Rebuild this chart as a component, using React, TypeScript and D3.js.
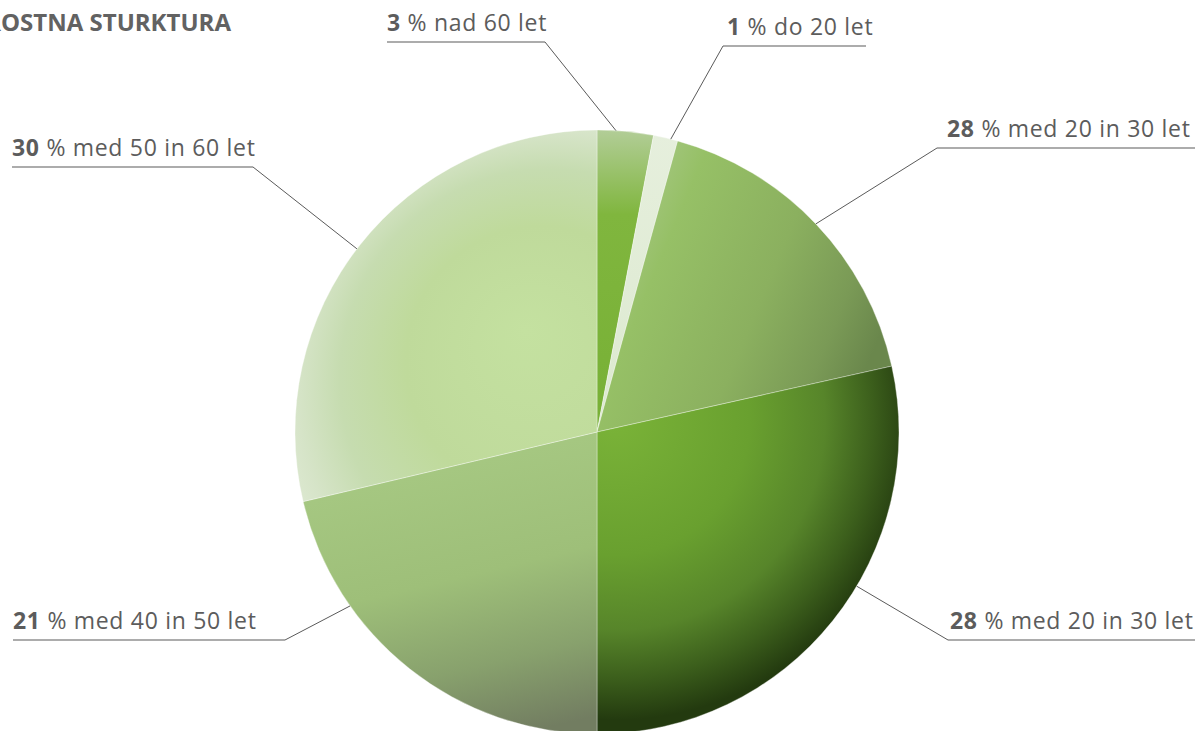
import React from "react";
import * as d3 from "d3";

// podatki: starostna struktura (delež v %)
const categories = [
  "nad 60 let",
  "do 20 let",
  "med 20 in 30 let",
  "med 20 in 30 let",
  "med 40 in 50 let",
  "med 50 in 60 let",
];
const shareLabels = ["3", "1", "28", "28", "21", "30"];
const shares = [3, 1.3, 17.2, 28.5, 21.3, 28.7];

const W = 1195;
const H = 731;
const cx = 597;
const cy = 432;
const R = 302;
const textColor = "#5c5c5c";
const lineColor = "#5a5a5a";

// razporeditev oznak (besedilo, podčrtaj in kolenček)
const labelLayout = [
  { x: 387, y: 31, x0: 387, x1: 545, elbow: "end", nudge: -1.8 },
  { x: 727, y: 35, x0: 723, x1: 866, elbow: "start", nudge: 1 },
  { x: 947, y: 137, x0: 937, x1: 1195, elbow: "start", nudge: 0 },
  { x: 950, y: 629, x0: 948, x1: 1195, elbow: "start", nudge: -8 },
  { x: 13, y: 629, x0: 13, x1: 285, elbow: "end", nudge: 16.5 },
  { x: 12, y: 156, x0: 12, x1: 253, elbow: "end", nudge: -1 },
];

type Stop = [number, string];
type Grad =
  | { kind: "linear"; x1: number; y1: number; x2: number; y2: number; stops: Stop[] }
  | { kind: "radial"; cx: number; cy: number; r: number; fx: number; fy: number; stops: Stop[] };

// senčenje posameznih izsekov (koordinate strani)
const sliceGradients: Grad[] = [
  { kind: "linear", x1: 0, y1: 130, x2: 0, y2: 432, stops: [[0, "#b2cd97"], [0.28, "#80b63e"], [1, "#77b035"]] },
  { kind: "linear", x1: 0, y1: 130, x2: 0, y2: 432, stops: [[0, "#e6efdd"], [1, "#dce9cf"]] },
  {
    kind: "linear", x1: 610, y1: 180, x2: 895, y2: 300,
    stops: [[0, "#adcb91"], [0.25, "#96c066"], [0.6, "#8bb05f"], [0.85, "#7a9a56"], [1, "#6a874c"]],
  },
  {
    kind: "radial", cx: 615, cy: 420, r: 300, fx: 615, fy: 420,
    stops: [[0, "#7ab338"], [0.45, "#69a02f"], [0.7, "#57852a"], [0.86, "#3c5f1c"], [1, "#233a0f"]],
  },
  {
    kind: "linear", x1: 450, y1: 440, x2: 520, y2: 734,
    stops: [[0, "#a7c983"], [0.45, "#9ebf79"], [0.75, "#88a16d"], [1, "#727d61"]],
  },
  {
    kind: "radial", cx: 560, cy: 400, r: 300, fx: 525, fy: 330,
    stops: [[0, "#c4e1a0"], [0.45, "#bfda9b"], [0.7, "#c6dcb0"], [0.86, "#d6e4c8"], [1, "#e2ecd8"]],
  },
];

const App: React.FC = () => {
  const data = categories.map((c, i) => ({ category: c, value: shares[i], label: shareLabels[i] }));

  const pie = d3
    .pie<(typeof data)[number]>()
    .sort(null)
    .value((d) => d.value)
    .startAngle(0)
    .endAngle(2 * Math.PI);

  const arcs = pie(data);
  const arc = d3.arc<d3.PieArcDatum<(typeof data)[number]>>().innerRadius(0).outerRadius(R);

  const toRad = d3.scaleLinear().domain([0, 360]).range([0, 2 * Math.PI]);
  const shift = `translate(${-cx},${-cy})`;

  return (
    <svg
      width={W}
      height={H}
      style={{ position: "absolute", left: 0, top: 0, background: "#fff" }}
      fontFamily="'Open Sans', 'Noto Sans', sans-serif"
    >
      <defs>
        {sliceGradients.map((g, i) =>
          g.kind === "linear" ? (
            <linearGradient key={i} id={`g${i}`} gradientUnits="userSpaceOnUse" gradientTransform={shift}
              x1={g.x1} y1={g.y1} x2={g.x2} y2={g.y2}>
              {g.stops.map(([o, c], j) => (
                <stop key={j} offset={o} stopColor={c} />
              ))}
            </linearGradient>
          ) : (
            <radialGradient key={i} id={`g${i}`} gradientUnits="userSpaceOnUse" gradientTransform={shift}
              cx={g.cx} cy={g.cy} r={g.r} fx={g.fx} fy={g.fy}>
              {g.stops.map(([o, c], j) => (
                <stop key={j} offset={o} stopColor={c} />
              ))}
            </radialGradient>
          )
        )}
      </defs>

      <text x={231} y={31} textAnchor="end" fontSize={24} fontWeight="bold" fill="#626262">
        STAROSTNA STURKTURA
      </text>

      <g transform={`translate(${cx},${cy})`}>
        {arcs.map((a, i) => (
          <path
            key={i}
            d={arc(a) || ""}
            fill={`url(#g${i})`}
            stroke="rgba(255,255,255,0.35)"
            strokeWidth={1}
          />
        ))}
      </g>

      {arcs.map((a, i) => {
        const L = labelLayout[i];
        const ang = (a.startAngle + a.endAngle) / 2 + toRad(L.nudge);
        const px = cx + Math.sin(ang) * R;
        const py = cy - Math.cos(ang) * R;
        const ly = L.y + 11;
        const ex = L.elbow === "end" ? L.x1 : L.x0;
        return (
          <g key={`l${i}`}>
            <line x1={L.x0} y1={ly} x2={L.x1} y2={ly} stroke={lineColor} strokeWidth={1.2} />
            <line x1={ex} y1={ly} x2={px} y2={py} stroke={lineColor} strokeWidth={1} />
            <text x={L.x} y={L.y} fontSize={23} letterSpacing={0.7} fill={textColor}>
              <tspan fontWeight="bold">{a.data.label}</tspan>
              <tspan> % {a.data.category}</tspan>
            </text>
          </g>
        );
      })}
    </svg>
  );
};

export default App;
